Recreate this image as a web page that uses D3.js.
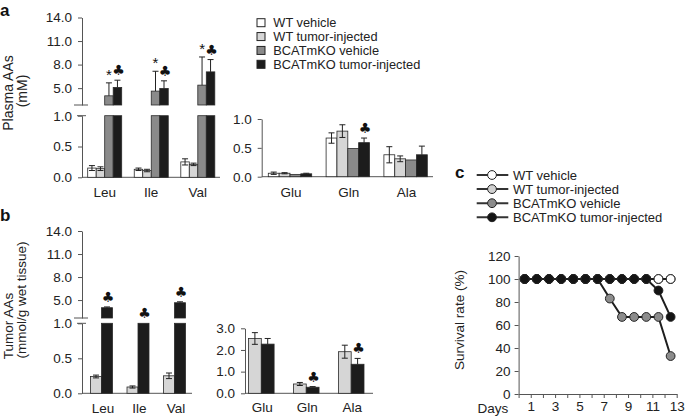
<!DOCTYPE html>
<html><head><meta charset="utf-8">
<script src="https://cdn.jsdelivr.net/npm/d3@7"></script>
<style>
html,body{margin:0;padding:0;background:#fff;}
svg{display:block;font-family:"Liberation Sans",Arial,Helvetica,sans-serif;}
</style></head><body>
<svg id="chart" width="685" height="418"></svg>
<script>
// ================= DATA =================
const groups = ["WT vehicle", "WT tumor-injected", "BCATmKO vehicle", "BCATmKO tumor-injected"];
const bcaaCategories = ["Leu", "Ile", "Val"];
const otherCategories = ["Glu", "Gln", "Ala"];

// Panel a: plasma AAs (mM), branched-chain
const plasmaBcaaWtVehicle      = [0.15, 0.13, 0.25];
const plasmaBcaaWtVehicleErr   = [0.04, 0.02, 0.05];
const plasmaBcaaWtTumor        = [0.14, 0.11, 0.21];
const plasmaBcaaWtTumorErr     = [0.03, 0.02, 0.02];
const plasmaBcaaKoVehicle      = [4.02, 4.62, 5.38];
const plasmaBcaaKoVehicleErr   = [1.65, 2.53, 3.59];
const plasmaBcaaKoTumor        = [5.09, 4.96, 7.07];
const plasmaBcaaKoTumorErr     = [0.92, 0.97, 1.57];
const plasmaBcaaKoVehicleMarks = ["*", "*", "*"];
const plasmaBcaaKoTumorMarks   = ["\u2663", "\u2663", "\u2663"];

// Panel a: plasma AAs (mM), others
const plasmaOtherWtVehicle     = [0.06, 0.67, 0.38];
const plasmaOtherWtVehicleErr  = [0.02, 0.09, 0.14];
const plasmaOtherWtTumor       = [0.06, 0.79, 0.31];
const plasmaOtherWtTumorErr    = [0.01, 0.11, 0.05];
const plasmaOtherKoVehicle     = [0.04, 0.49, 0.29];
const plasmaOtherKoVehicleErr  = [0, 0, 0];
const plasmaOtherKoTumor       = [0.05, 0.59, 0.38];
const plasmaOtherKoTumorErr    = [0.01, 0.08, 0.15];
const plasmaOtherKoTumorMarks  = ["", "\u2663", ""];

// Panel b: tumor AAs (mmol/g wet tissue)
const tumorBcaaWtTumor         = [0.24, 0.09, 0.25];
const tumorBcaaWtTumorErr      = [0.02, 0.015, 0.04];
const tumorBcaaKoTumor         = [4.0, 1.0, 4.65];
const tumorBcaaKoTumorErr      = [0.1, 0, 0.12];
const tumorBcaaKoTumorMarks    = ["\u2663", "\u2663", "\u2663"];
const tumorOtherWtTumor        = [2.53, 0.43, 1.92];
const tumorOtherWtTumorErr     = [0.27, 0.07, 0.30];
const tumorOtherKoTumor        = [2.27, 0.28, 1.34];
const tumorOtherKoTumorErr     = [0.26, 0.03, 0.27];
const tumorOtherKoTumorMarks   = ["", "\u2663", "\u2663"];

// Axis ticks
const brokenUpperTicks = [5.0, 8.0, 11.0, 14.0];
const brokenLowerTicks = [0.0, 0.5, 1.0];
const plasmaOtherTicks = [0.0, 0.5, 1.0];
const tumorOtherTicks  = [0.0, 1.0, 2.0, 3.0];

// Panel c: survival (%)
const survivalDays        = [0.5, 1.5, 2.5, 3.5, 4.5, 5.5, 6.5, 7.5, 8.5, 9.5, 10.5, 11.5, 12.5];
const survivalWtVehicle   = [100, 100, 100, 100, 100, 100, 100, 100, 100, 100, 100, 100, 100];
const survivalWtTumor     = [100, 100, 100, 100, 100, 100, 100, 100, 100, 100, 100, 100, 100];
const survivalKoVehicle   = [100, 100, 100, 100, 100, 100, 100, 83, 67, 67, 67, 67, 33];
const survivalKoTumor     = [100, 100, 100, 100, 100, 100, 100, 100, 100, 100, 100, 90, 67];
const survivalYTicks      = [0, 20, 40, 60, 80, 100, 120];
const survivalXTickLabels = [1, 3, 5, 7, 9, 11, 13];

// ================= STYLE =================
const fills = {"WT vehicle": "#ffffff", "WT tumor-injected": "#d6d6d6",
               "BCATmKO vehicle": "#8a8a8a", "BCATmKO tumor-injected": "#1c1c1c"};
const darkGroups = new Set(["BCATmKO vehicle", "BCATmKO tumor-injected"]);
const axisColor = "#555";
const textColor = "#222";
const FS = 13.5;

const svg = d3.select("#chart");

function styleAxis(g) {
  g.selectAll(".domain").attr("stroke", axisColor).attr("stroke-width", 1);
  g.selectAll(".tick line").attr("stroke", axisColor);
  g.selectAll(".tick text").attr("fill", textColor).style("font-size", FS + "px");
}

function mkSeries(group, values, errs, marks) {
  return {group, values, errs, marks: marks || values.map(() => "")};
}

// Generic bar panel, optionally with a broken y axis
function barPanel(cfg) {
  const g = svg.append("g");
  const lower = d3.scaleLinear().domain(cfg.lowerDomain).range(cfg.lowerRange);
  const upper = cfg.upperDomain ? d3.scaleLinear().domain(cfg.upperDomain).range(cfg.upperRange) : null;
  const lowMax = cfg.lowerDomain[1];
  const yPos = v => (upper && v > lowMax) ? upper(v) : lower(v);

  const xc = d3.scalePoint().domain(cfg.categories).range(cfg.centerRange);
  const sub = d3.scaleBand().domain(cfg.series.map(s => s.group)).range([-cfg.groupHalf, cfg.groupHalf]);

  // axes
  const axL = g.append("g").attr("transform", `translate(${cfg.axisX},0)`)
    .call(d3.axisLeft(lower).tickValues(cfg.lowerTicks).tickFormat(d3.format(".1f")).tickSize(4).tickPadding(6).tickSizeOuter(0));
  styleAxis(axL);
  if (upper) {
    const axU = g.append("g").attr("transform", `translate(${cfg.axisX},0)`)
      .call(d3.axisLeft(upper).tickValues(cfg.upperTicks).tickFormat(d3.format(".1f")).tickSize(4).tickPadding(6).tickSizeOuter(0));
    styleAxis(axU);
    // break marks
    const yb = cfg.upperRange[0];
    g.append("line").attr("x1", cfg.axisX - 8).attr("x2", cfg.axisX + 6)
      .attr("y1", yb).attr("y2", yb).attr("stroke", axisColor);
    g.append("line").attr("x1", cfg.axisX - 5).attr("x2", cfg.axisX + 4)
      .attr("y1", cfg.lowerRange[1]).attr("y2", cfg.lowerRange[1]).attr("stroke", axisColor);
  }
  // x baseline
  g.append("line").attr("x1", cfg.axisX).attr("x2", cfg.xEnd)
    .attr("y1", lower(0)).attr("y2", lower(0)).attr("stroke", axisColor);

  // category labels
  g.selectAll("text.cat").data(cfg.categories).join("text").attr("class", "cat")
    .attr("x", d => xc(d) + (cfg.labelDx || 0)).attr("y", cfg.labelY)
    .attr("text-anchor", "middle").attr("fill", textColor).style("font-size", FS + "px").text(d => d);

  const bw = sub.bandwidth();
  cfg.series.forEach(s => {
    s.values.forEach((v, i) => {
      const x0 = xc(cfg.categories[i]) + sub(s.group);
      const cx = x0 + bw / 2;
      const fill = fills[s.group];
      if (upper && v > lowMax) {
        g.append("rect").attr("x", x0).attr("width", bw)
          .attr("y", lower(lowMax)).attr("height", lower(0) - lower(lowMax))
          .attr("fill", fill).attr("stroke", "#2a2a2a").attr("stroke-width", 0.8);
        g.append("rect").attr("x", x0).attr("width", bw)
          .attr("y", upper(v)).attr("height", upper(cfg.upperDomain[0]) - upper(v))
          .attr("fill", fill).attr("stroke", "#2a2a2a").attr("stroke-width", 0.8);
      } else {
        g.append("rect").attr("x", x0).attr("width", bw)
          .attr("y", lower(v)).attr("height", lower(0) - lower(v))
          .attr("fill", fill).attr("stroke", "#2a2a2a").attr("stroke-width", 0.8);
      }
      const e = s.errs[i];
      let top = yPos(v);
      if (e > 0) {
        top = yPos(v + e);
        const full = !darkGroups.has(s.group);
        const bot = full ? yPos(Math.max(0, v - e)) : yPos(v);
        g.append("line").attr("x1", cx).attr("x2", cx).attr("y1", bot).attr("y2", top)
          .attr("stroke", "#222").attr("stroke-width", 1);
        g.append("line").attr("x1", cx - 3).attr("x2", cx + 3).attr("y1", top).attr("y2", top)
          .attr("stroke", "#222").attr("stroke-width", 1);
        if (full) g.append("line").attr("x1", cx - 3).attr("x2", cx + 3).attr("y1", bot).attr("y2", bot)
          .attr("stroke", "#222").attr("stroke-width", 1);
      }
      const m = s.marks[i];
      if (m === "*") {
        g.append("text").attr("x", cx).attr("y", top - 3).attr("text-anchor", "middle")
          .attr("fill", "#111").style("font-size", "15px").text(m);
      } else if (m) {
        g.append("text").attr("x", cx + 1).attr("y", top - 5).attr("text-anchor", "middle")
          .attr("fill", "#111").style("font-size", "14px")
          .style("font-family", "'DejaVu Sans',sans-serif").text(m);
      }
    });
  });
  return g;
}

// ---------- Panel a (left, broken axis) ----------
barPanel({
  categories: bcaaCategories,
  series: [
    mkSeries(groups[0], plasmaBcaaWtVehicle, plasmaBcaaWtVehicleErr),
    mkSeries(groups[1], plasmaBcaaWtTumor, plasmaBcaaWtTumorErr),
    mkSeries(groups[2], plasmaBcaaKoVehicle, plasmaBcaaKoVehicleErr, plasmaBcaaKoVehicleMarks),
    mkSeries(groups[3], plasmaBcaaKoTumor, plasmaBcaaKoTumorErr, plasmaBcaaKoTumorMarks)
  ],
  axisX: 82, xEnd: 220,
  lowerDomain: [0, 1], lowerRange: [177.3, 115.7], lowerTicks: brokenLowerTicks,
  upperDomain: [2.85, 14], upperRange: [105, 17.5], upperTicks: brokenUpperTicks,
  centerRange: [104.7, 197.8], groupHalf: 17, labelY: 197, labelDx: 0
});

// ---------- Panel a (right) ----------
barPanel({
  categories: otherCategories,
  series: [
    mkSeries(groups[0], plasmaOtherWtVehicle, plasmaOtherWtVehicleErr),
    mkSeries(groups[1], plasmaOtherWtTumor, plasmaOtherWtTumorErr),
    mkSeries(groups[2], plasmaOtherKoVehicle, plasmaOtherKoVehicleErr),
    mkSeries(groups[3], plasmaOtherKoTumor, plasmaOtherKoTumorErr, plasmaOtherKoTumorMarks)
  ],
  axisX: 261.7, xEnd: 433,
  lowerDomain: [0, 1], lowerRange: [176.7, 119], lowerTicks: plasmaOtherTicks,
  centerRange: [290, 405.6], groupHalf: 21.7, labelY: 196.5, labelDx: 1
});

// ---------- Panel b (left, broken axis) ----------
barPanel({
  categories: bcaaCategories,
  series: [
    mkSeries(groups[1], tumorBcaaWtTumor, tumorBcaaWtTumorErr),
    mkSeries(groups[3], tumorBcaaKoTumor, tumorBcaaKoTumorErr, tumorBcaaKoTumorMarks)
  ],
  axisX: 82, xEnd: 192,
  lowerDomain: [0, 1], lowerRange: [393.3, 323.3], lowerTicks: brokenLowerTicks,
  upperDomain: [2.66, 14], upperRange: [318, 231], upperTicks: brokenUpperTicks,
  centerRange: [101.5, 174.5], groupHalf: 11, labelY: 413, labelDx: 1.5
});

// ---------- Panel b (right) ----------
barPanel({
  categories: otherCategories,
  series: [
    mkSeries(groups[1], tumorOtherWtTumor, tumorOtherWtTumorErr),
    mkSeries(groups[3], tumorOtherKoTumor, tumorOtherKoTumorErr, tumorOtherKoTumorMarks)
  ],
  axisX: 245, xEnd: 373,
  lowerDomain: [0, 3], lowerRange: [393.3, 328.3], lowerTicks: tumorOtherTicks,
  centerRange: [261.3, 351.2], groupHalf: 12.8, labelY: 412, labelDx: 1
});

// ---------- Legend a ----------
const legA = svg.append("g");
const legARows = d3.scalePoint().domain(groups).range([22.7, 64.3]);
groups.forEach(gname => {
  legA.append("rect").attr("x", 257).attr("y", legARows(gname) - 4).attr("width", 8).attr("height", 8)
    .attr("fill", fills[gname]).attr("stroke", "#222").attr("stroke-width", 1);
  legA.append("text").attr("x", 273.3).attr("y", legARows(gname)).attr("dy", "0.35em")
    .attr("fill", textColor).style("font-size", "12.8px").text(gname);
});

// ---------- Axis titles & panel letters ----------
function vtext(x, y, txt, size) {
  svg.append("text").attr("transform", `translate(${x},${y}) rotate(-90)`)
    .attr("text-anchor", "middle").attr("fill", textColor).style("font-size", size + "px").text(txt);
}
vtext(12.5, 93, "Plasma AAs", 14);
vtext(26.5, 91, "(mM)", 14);
vtext(12.5, 326, "Tumor AAs", 13.5);
vtext(25.5, 300, "(mmol/g wet tissue)", 13.5);
vtext(464, 320, "Survival rate (%)", 13.5);

function letter(x, y, t) {
  svg.append("text").attr("x", x).attr("y", y).attr("fill", "#111")
    .style("font-size", "17px").style("font-weight", "bold").text(t);
}
letter(0, 15.5, "a");
letter(0, 221, "b");
letter(455, 178, "c");

// ---------- Panel c ----------
const cx = d3.scaleLinear().domain([0, 13]).range([518.6, 676.7]);
const cy = d3.scaleLinear().domain([0, 120]).range([394, 256]);
const cg = svg.append("g");
const cyAxis = cg.append("g").attr("transform", `translate(${cx(0)},0)`)
  .call(d3.axisLeft(cy).tickValues(survivalYTicks).tickFormat(d3.format("d")).tickSize(4).tickPadding(4).tickSizeOuter(0));
styleAxis(cyAxis);
const cxAxis = cg.append("g").attr("transform", `translate(0,${cy(0)})`)
  .call(d3.axisBottom(cx).tickValues(d3.range(0, 14)).tickFormat(d => survivalXTickLabels.includes(d) ? d : "")
    .tickSize(4).tickPadding(3).tickSizeOuter(0));
styleAxis(cxAxis);
cg.append("text").attr("x", 493).attr("y", 413).attr("text-anchor", "middle")
  .attr("fill", textColor).style("font-size", FS + "px").text("Days");

const survSeries = [
  {group: groups[1], values: survivalWtTumor},
  {group: groups[0], values: survivalWtVehicle},
  {group: groups[2], values: survivalKoVehicle},
  {group: groups[3], values: survivalKoTumor}
];
const pointFill = {"WT vehicle": "#ffffff", "WT tumor-injected": "#d0d0d0",
                   "BCATmKO vehicle": "#8c8c8c", "BCATmKO tumor-injected": "#141414"};
const line = d3.line().x(d => cx(d[0])).y(d => cy(d[1]));
survSeries.forEach(s => {
  const pts = survivalDays.map((d, i) => [d, s.values[i]]);
  cg.append("path").attr("d", line(pts)).attr("fill", "none")
    .attr("stroke", "#1e1e1e").attr("stroke-width", 2);
});
survSeries.forEach(s => {
  const pts = survivalDays.map((d, i) => [d, s.values[i]]);
  cg.selectAll(null).data(pts).join("circle")
    .attr("cx", d => cx(d[0])).attr("cy", d => cy(d[1])).attr("r", 4.4)
    .attr("fill", pointFill[s.group]).attr("stroke", "#222").attr("stroke-width", 1);
});

// Legend c
const legC = svg.append("g");
const legCRows = d3.scalePoint().domain(groups).range([175, 217.3]);
groups.forEach(gname => {
  const y = legCRows(gname);
  legC.append("line").attr("x1", 476.7).attr("x2", 508.3).attr("y1", y).attr("y2", y)
    .attr("stroke", "#333").attr("stroke-width", 2);
  legC.append("circle").attr("cx", 492).attr("cy", y).attr("r", 4.4)
    .attr("fill", pointFill[gname]).attr("stroke", "#222").attr("stroke-width", 1);
  legC.append("text").attr("x", 513).attr("y", y).attr("dy", "0.35em")
    .attr("fill", textColor).style("font-size", "13px").text(gname);
});
</script>
</body></html>
